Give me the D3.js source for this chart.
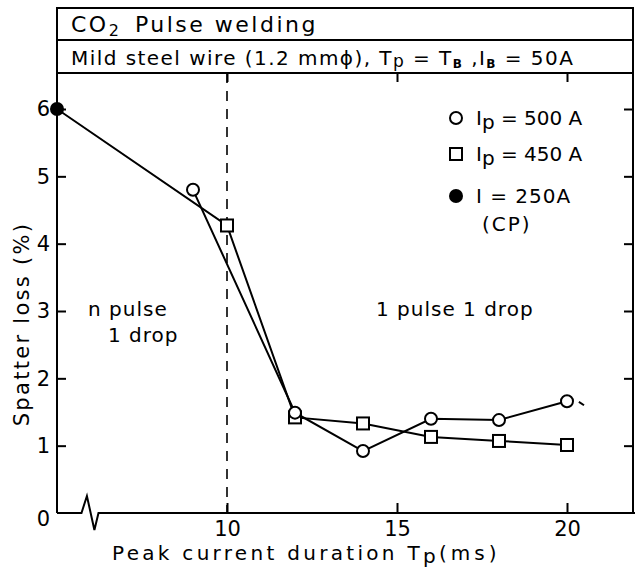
<!DOCTYPE html>
<html>
<head>
<meta charset="utf-8">
<script src="https://cdn.jsdelivr.net/npm/d3@7"></script>
<style>
  body { margin: 0; background: #fff; }
  text { font-family: "DejaVu Sans", sans-serif; fill: #000; }
</style>
</head>
<body>
<svg id="chart" width="635" height="573"></svg>
<script>
// values (Tp in ms, spatter loss in %)
const cpPoint = [{t: 5, loss: 6.0}];
const ip500 = [
  {t: 9, loss: 4.8}, {t: 12, loss: 1.49}, {t: 14, loss: 0.92},
  {t: 16, loss: 1.4}, {t: 18, loss: 1.38}, {t: 20, loss: 1.66}
];
const ip450 = [
  {t: 10, loss: 4.27}, {t: 12, loss: 1.42}, {t: 14, loss: 1.33},
  {t: 16, loss: 1.13}, {t: 18, loss: 1.07}, {t: 20, loss: 1.01}
];
const xTicks = [10, 15, 20];
const yTicks = [0, 1, 2, 3, 4, 5, 6];
const dropBoundary = 10;

const svg = d3.select('#chart');
const pLeft = 57, pRight = 633, pTop = 73, pBottom = 513;

const x = d3.scaleLinear().domain([5, 22]).range([pLeft, 635]);
const y = d3.scaleLinear().domain([0, 6]).range([pBottom, 109]);

// header boxes
const hdr = svg.append('g');
hdr.append('rect').attr('x', pLeft).attr('y', 8).attr('width', pRight - pLeft).attr('height', pTop - 8)
  .attr('fill', 'none').attr('stroke', '#000').attr('stroke-width', 2);
hdr.append('line').attr('x1', pLeft).attr('x2', pRight).attr('y1', 40).attr('y2', 40)
  .attr('stroke', '#000').attr('stroke-width', 2);

const t1 = hdr.append('text').attr('x', 71).attr('y', 32).style('font-size', '22px').attr('letter-spacing', 2.5);
t1.append('tspan').text('CO');
t1.append('tspan').attr('dy', 4).style('font-size', '16px').text('2');
t1.append('tspan').attr('dy', -4).text('\u2002Pulse welding');

const t2 = hdr.append('text').attr('x', 71).attr('y', 65).style('font-size', '20px').attr('letter-spacing', 1.45);
t2.append('tspan').text('Mild steel wire (1.2 mm\u03d5), T');
t2.append('tspan').attr('dy', 2).style('font-size', '17px').text('p');
t2.append('tspan').attr('dy', -2).text(' = T');
t2.append('tspan').attr('dy', 3).style('font-size', '12px').style('font-weight', 'bold').text('B');
t2.append('tspan').attr('dy', -3).text(' ,I');
t2.append('tspan').attr('dy', 3).style('font-size', '12px').style('font-weight', 'bold').text('B');
t2.append('tspan').attr('dy', -3).text(' = 50A');

// plot frame: left, right, top
svg.append('path')
  .attr('d', `M${pLeft},${pBottom}V${pTop}H${pRight}V${pBottom}`)
  .attr('fill', 'none').attr('stroke', '#000').attr('stroke-width', 2);

// bottom axis line with break symbol
const y0 = y(0);
const axisPts = [
  [pLeft, y0], [x(5.72), y0], [x(5.88), y0 - 17], [x(6.1), y0 + 17], [x(6.22), y0], [635, y0]
];
svg.append('path').attr('d', d3.line()(axisPts))
  .attr('fill', 'none').attr('stroke', '#000').attr('stroke-width', 2);

// axes (ticks inside)
const xAxis = svg.append('g').attr('transform', `translate(0,${y0})`)
  .call(d3.axisBottom(x).tickValues(xTicks).tickSizeInner(-10).tickSizeOuter(0).tickPadding(8));
const yAxis = svg.append('g').attr('transform', `translate(${pLeft},0)`)
  .call(d3.axisLeft(y).tickValues(yTicks).tickFormat(d3.format('d')).tickSizeInner(-9).tickSizeOuter(0).tickPadding(7));
const yAxisR = svg.append('g').attr('transform', `translate(${pRight},0)`)
  .call(d3.axisRight(y).tickValues(yTicks.filter(d => d > 0)).tickSizeInner(-9).tickSizeOuter(0).tickFormat(''));
const xAxisT = svg.append('g').attr('transform', `translate(0,${pTop})`)
  .call(d3.axisTop(x).tickValues(xTicks).tickSizeInner(-9).tickSizeOuter(0).tickFormat(''));
[xAxis, yAxis, yAxisR, xAxisT].forEach(g => {
  g.select('.domain').remove();
  g.selectAll('line').attr('stroke', '#000').attr('stroke-width', 2);
  g.selectAll('text').style('font-size', '21px').attr('fill', '#000')
    .style('font-family', '"DejaVu Sans", sans-serif');
});
yAxis.selectAll('.tick').filter(d => d === 0).select('line').remove();
yAxis.selectAll('.tick').filter(d => d === 0).select('text').attr('dy', '0.6em');

// axis titles
const xt = svg.append('text').attr('x', 112).attr('y', 560).style('font-size', '20px').attr('letter-spacing', 3.3);
xt.append('tspan').text('Peak current duration  T');
xt.append('tspan').attr('dy', 3).text('p');
xt.append('tspan').attr('dy', -3).attr('letter-spacing', 4).text('(ms)');

svg.append('text').attr('transform', 'translate(29,324) rotate(-90)').attr('text-anchor', 'middle')
  .style('font-size', '21px').attr('letter-spacing', 2.3).text('Spatter loss  (%)');

// dashed boundary at Tp = 10 ms
svg.append('line').attr('x1', x(dropBoundary)).attr('x2', x(dropBoundary))
  .attr('y1', pTop).attr('y2', y0)
  .attr('stroke', '#000').attr('stroke-width', 1.6).attr('stroke-dasharray', '10,8');

// region labels
svg.append('text').attr('x', 88).attr('y', 316).style('font-size', '20px').attr('letter-spacing', 1).text('n pulse');
svg.append('text').attr('x', 108).attr('y', 342).style('font-size', '20px').attr('letter-spacing', 1).text('1 drop');
svg.append('text').attr('x', 376).attr('y', 316).style('font-size', '20px').attr('letter-spacing', 1).text('1 pulse 1 drop');

// lines
const line = d3.line().x(d => x(d.t)).y(d => y(d.loss));
svg.append('path').datum(cpPoint.concat(ip450)).attr('d', line)
  .attr('fill', 'none').attr('stroke', '#000').attr('stroke-width', 2);
svg.append('path').datum(ip500).attr('d', line)
  .attr('fill', 'none').attr('stroke', '#000').attr('stroke-width', 2);
// small trailing stroke after last Ip=500 point
svg.append('line').attr('x1', x(20.35)).attr('y1', y(1.65)).attr('x2', x(20.5)).attr('y2', y(1.6))
  .attr('stroke', '#000').attr('stroke-width', 2);

// markers
svg.selectAll('.sq').data(ip450).join('rect').attr('class', 'sq')
  .attr('x', d => x(d.t) - 6).attr('y', d => y(d.loss) - 6).attr('width', 12).attr('height', 12)
  .attr('fill', '#fff').attr('stroke', '#000').attr('stroke-width', 2);
svg.selectAll('.ci').data(ip500).join('circle').attr('class', 'ci')
  .attr('cx', d => x(d.t)).attr('cy', d => y(d.loss)).attr('r', 6)
  .attr('fill', '#fff').attr('stroke', '#000').attr('stroke-width', 2);
svg.selectAll('.cp').data(cpPoint).join('circle').attr('class', 'cp')
  .attr('cx', d => x(d.t)).attr('cy', d => y(d.loss)).attr('r', 7).attr('fill', '#000');

// legend
const lg = svg.append('g');
lg.append('circle').attr('cx', 456).attr('cy', 118).attr('r', 6)
  .attr('fill', '#fff').attr('stroke', '#000').attr('stroke-width', 2);
lg.append('rect').attr('x', 450).attr('y', 148).attr('width', 12).attr('height', 12)
  .attr('fill', '#fff').attr('stroke', '#000').attr('stroke-width', 2);
lg.append('circle').attr('cx', 456).attr('cy', 196).attr('r', 7).attr('fill', '#000');

function ipLabel(yPos, val) {
  const t = lg.append('text').attr('x', 476).attr('y', yPos).style('font-size', '20px');
  t.append('tspan').text('I');
  t.append('tspan').attr('dy', 4).text('p');
  t.append('tspan').attr('dy', -4).text(' = ' + val + ' A');
}
ipLabel(125, 500);
ipLabel(161, 450);
lg.append('text').attr('x', 476).attr('y', 203).style('font-size', '20px').attr('letter-spacing', 1).text('I  = 250A');
lg.append('text').attr('x', 482).attr('y', 231).style('font-size', '20px').attr('letter-spacing', 2).text('(CP)');
</script>
</body>
</html>
